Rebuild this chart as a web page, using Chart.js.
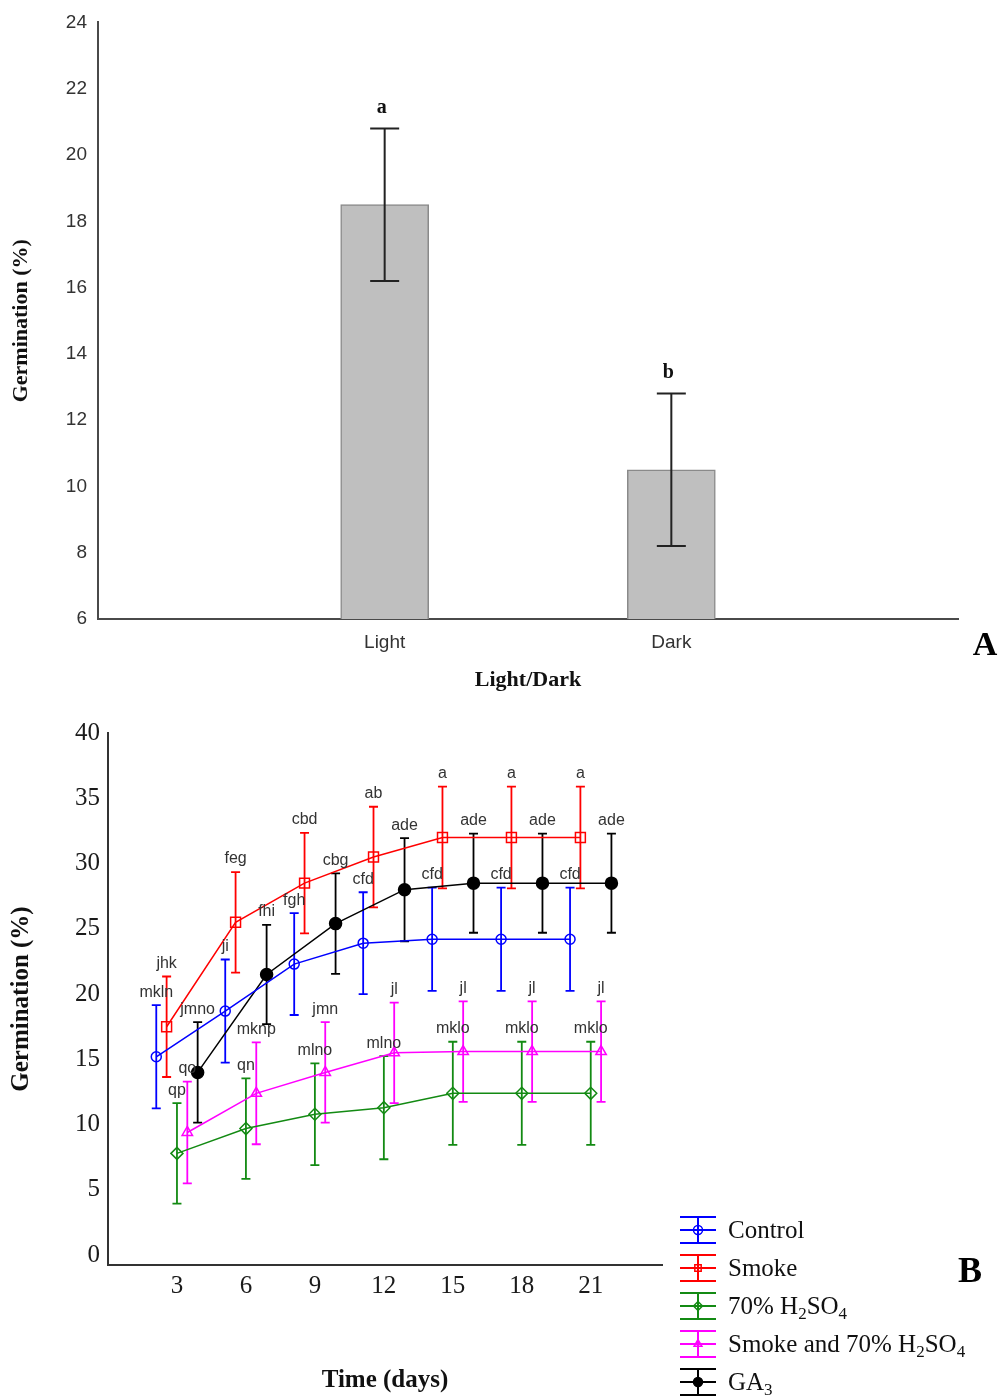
<!DOCTYPE html>
<html>
<head>
    <title>Germination</title>
    <script src="https://cdn.jsdelivr.net/npm/chart.js"></script>
    <style>
        body { margin: 0; background: #fff; }
        #panelA { position: absolute; left: 0; top: 0; }
        #panelB { position: absolute; left: 0; top: 700px; }
    </style>
</head>
<body>
    <canvas id="panelA" width="1000" height="700"></canvas>
    <canvas id="panelB" width="1000" height="699"></canvas>

    <script>
        // Panel A: light vs dark
        var lightDark = ['Light', 'Dark'];
        var germA = [18.5, 10.5];
        var errA = [2.3, 2.3];
        var lettersA = ['a', 'b'];
        var ticksA = [6, 8, 10, 12, 14, 16, 18, 20, 22, 24];

        // Panel B: germination over time for each treatment
        var days = [3, 6, 9, 12, 15, 18, 21];
        var ticksB = [0, 5, 10, 15, 20, 25, 30, 35, 40];

        var control = [15.2, 18.7, 22.3, 23.9, 24.2, 24.2, 24.2];
        var controlErr = [3.95, 3.95, 3.9, 3.9, 3.95, 3.95, 3.95];
        var controlLetters = ['mkln', 'ji', 'fgh', 'cfd', 'cfd', 'cfd', 'cfd'];

        var smoke = [17.5, 25.5, 28.5, 30.5, 32.0, 32.0, 32.0];
        var smokeErr = [3.85, 3.85, 3.85, 3.85, 3.9, 3.9, 3.9];
        var smokeLetters = ['jhk', 'feg', 'cbd', 'ab', 'a', 'a', 'a'];

        var acid = [7.8, 9.7, 10.8, 11.3, 12.4, 12.4, 12.4];
        var acidErr = [3.85, 3.85, 3.9, 3.95, 3.95, 3.95, 3.95];
        var acidLetters = ['qp', 'qn', 'mlno', 'mlno', 'mklo', 'mklo', 'mklo'];

        var smokeAcid = [9.4, 12.4, 14.0, 15.5, 15.6, 15.6, 15.6];
        var smokeAcidErr = [3.9, 3.9, 3.85, 3.85, 3.85, 3.85, 3.85];
        var smokeAcidLetters = ['qo', 'mknp', 'jmn', 'jl', 'jl', 'jl', 'jl'];

        var ga3 = [14.0, 21.5, 25.4, 28.0, 28.5, 28.5, 28.5];
        var ga3Err = [3.85, 3.8, 3.85, 3.95, 3.8, 3.8, 3.8];
        var ga3Letters = ['jmno', 'fhi', 'cbg', 'ade', 'ade', 'ade', 'ade'];

        var serif = 'Liberation Serif, Times New Roman, serif';
        var sans = 'Liberation Sans, Arial, sans-serif';

        // ---------- panel A ----------
        var barErrors = {
            id: 'barErrors',
            afterDatasetsDraw: function(chart) {
                var ctx = chart.ctx, y = chart.scales.y;
                var meta = chart.getDatasetMeta(0);
                var ds = chart.data.datasets[0];
                ctx.save();
                ctx.strokeStyle = '#222';
                ctx.lineWidth = 2;
                meta.data.forEach(function(bar, i) {
                    if (ds.data[i] == null) return;
                    var top = y.getPixelForValue(ds.data[i] + ds.errors[i]);
                    var bot = y.getPixelForValue(ds.data[i] - ds.errors[i]);
                    ctx.beginPath();
                    ctx.moveTo(bar.x, top); ctx.lineTo(bar.x, bot);
                    ctx.moveTo(bar.x - 14.5, top); ctx.lineTo(bar.x + 14.5, top);
                    ctx.moveTo(bar.x - 14.5, bot); ctx.lineTo(bar.x + 14.5, bot);
                    ctx.stroke();
                    ctx.fillStyle = '#111';
                    ctx.font = 'bold 20px ' + serif;
                    ctx.textAlign = 'center';
                    ctx.textBaseline = 'middle';
                    ctx.fillText(ds.letters[i], bar.x - 3, top - 21);
                });
                ctx.font = 'bold 34px ' + serif;
                ctx.fillStyle = '#000';
                ctx.textAlign = 'center';
                ctx.fillText('A', chart.chartArea.right + 27, chart.chartArea.bottom + 27);
                ctx.restore();
            }
        };

        new Chart(document.getElementById('panelA'), {
            type: 'bar',
            data: {
                labels: [''].concat(lightDark, ['']),
                datasets: [{
                    data: [null].concat(germA, [null]),
                    errors: [null].concat(errA, [null]),
                    letters: [''].concat(lettersA, ['']),
                    backgroundColor: '#bfbfbf',
                    borderColor: '#8a8a8a',
                    borderWidth: 1.5,
                    barThickness: 88
                }]
            },
            options: {
                responsive: false,
                animation: false,
                devicePixelRatio: 1,
                layout: { padding: { top: 19, right: 42, left: 0, bottom: 0 } },
                plugins: { legend: { display: false }, tooltip: { enabled: false } },
                scales: {
                    x: {
                        offset: false,
                        grid: { display: false, drawTicks: false },
                        border: { color: '#4a4a4a', width: 2 },
                        ticks: { font: { family: sans, size: 19 }, color: '#333', padding: 12, autoSkip: false, maxRotation: 0 },
                        title: { display: true, text: 'Light/Dark', color: '#111',
                                 font: { family: serif, size: 22, weight: 'bold' }, padding: { top: 4, bottom: 6 } },
                        afterFit: function(s) { s.height = 81; }
                    },
                    y: {
                        min: 6, max: 24,
                        grid: { display: false, drawTicks: false },
                        border: { color: '#4a4a4a', width: 2 },
                        afterBuildTicks: function(s) { s.ticks = ticksA.map(function(v) { return { value: v }; }); },
                        ticks: { font: { family: sans, size: 19 }, color: '#333', padding: 11 },
                        title: { display: true, text: 'Germination (%)', color: '#111',
                                 font: { family: serif, size: 22, weight: 'bold' }, padding: { top: 8 } },
                        afterFit: function(s) { s.width = 98; }
                    }
                }
            },
            plugins: [barErrors]
        });

        // ---------- panel B ----------
        var treatments = [
            { label: 'Control', values: control, errors: controlErr, letters: controlLetters,
              color: '#0000ff', point: 'circle', radius: 5, filled: false, dodge: -0.9 },
            { label: 'Smoke', values: smoke, errors: smokeErr, letters: smokeLetters,
              color: '#ff0000', point: 'rect', radius: 7, filled: false, dodge: -0.45 },
            { label: '70% H₂SO₄', values: acid, errors: acidErr, letters: acidLetters,
              color: '#138a13', point: 'rectRot', radius: 6, filled: false, dodge: 0 },
            { label: 'Smoke and 70% H₂SO₄', values: smokeAcid, errors: smokeAcidErr, letters: smokeAcidLetters,
              color: '#ff00ff', point: 'triangle', radius: 6, filled: false, dodge: 0.45 },
            { label: 'GA₃', values: ga3, errors: ga3Err, letters: ga3Letters,
              color: '#000000', point: 'circle', radius: 6, filled: true, dodge: 0.9 }
        ];

        var lineErrors = {
            id: 'lineErrors',
            beforeDatasetsDraw: function(chart) {
                var ctx = chart.ctx, y = chart.scales.y;
                ctx.save();
                chart.data.datasets.forEach(function(ds, di) {
                    var meta = chart.getDatasetMeta(di);
                    ctx.strokeStyle = ds.borderColor;
                    ctx.lineWidth = 1.8;
                    meta.data.forEach(function(pt, i) {
                        var v = ds.data[i].y, e = ds.errors[i];
                        var top = y.getPixelForValue(v + e), bot = y.getPixelForValue(v - e);
                        ctx.beginPath();
                        ctx.moveTo(pt.x, top); ctx.lineTo(pt.x, bot);
                        ctx.moveTo(pt.x - 4.5, top); ctx.lineTo(pt.x + 4.5, top);
                        ctx.moveTo(pt.x - 4.5, bot); ctx.lineTo(pt.x + 4.5, bot);
                        ctx.stroke();
                    });
                });
                ctx.restore();
            },
            afterDatasetsDraw: function(chart) {
                var ctx = chart.ctx, y = chart.scales.y;
                ctx.save();
                ctx.font = '16px ' + sans;
                ctx.fillStyle = '#333';
                ctx.textAlign = 'center';
                ctx.textBaseline = 'middle';
                chart.data.datasets.forEach(function(ds, di) {
                    var meta = chart.getDatasetMeta(di);
                    meta.data.forEach(function(pt, i) {
                        var top = y.getPixelForValue(ds.data[i].y + ds.errors[i]);
                        ctx.fillText(ds.letters[i], pt.x, top - 13);
                    });
                });
                ctx.restore();
            }
        };

        // label text with unicode subscript digits drawn small and lowered
        function drawRichLabel(ctx, text, x, y, size) {
            var subs = { '₂': '2', '₃': '3', '₄': '4' };
            var cx = x;
            var run = '', runSub = false;
            function flush() {
                if (!run) return;
                ctx.font = (runSub ? Math.round(size * 0.66) : size) + 'px ' + serif;
                ctx.fillText(run, cx, runSub ? y + size * 0.3 : y);
                cx += ctx.measureText(run).width;
                run = '';
            }
            for (var k = 0; k < text.length; k++) {
                var ch = text[k];
                var isSub = subs[ch] !== undefined;
                if (isSub !== runSub) { flush(); runSub = isSub; }
                run += isSub ? subs[ch] : ch;
            }
            flush();
        }

        var sideLegend = {
            id: 'sideLegend',
            afterDraw: function(chart) {
                var ctx = chart.ctx, area = chart.chartArea;
                var lx = area.right + 18;
                ctx.save();
                chart.data.datasets.forEach(function(ds, i) {
                    var cy = area.bottom - 35 + i * 38;
                    ctx.strokeStyle = ds.borderColor;
                    ctx.lineWidth = 2;
                    ctx.beginPath();
                    ctx.moveTo(lx, cy - 13); ctx.lineTo(lx + 36, cy - 13);
                    ctx.moveTo(lx, cy); ctx.lineTo(lx + 36, cy);
                    ctx.moveTo(lx, cy + 13); ctx.lineTo(lx + 36, cy + 13);
                    ctx.moveTo(lx + 18, cy - 13); ctx.lineTo(lx + 18, cy + 13);
                    ctx.stroke();
                    ctx.fillStyle = ds.pointBackgroundColor;
                    ctx.lineWidth = 1.5;
                    Chart.helpers.drawPoint(ctx, { pointStyle: ds.pointStyle, radius: 4.5, borderWidth: 1.5, rotation: 0 }, lx + 18, cy);
                    ctx.fillStyle = '#111';
                    ctx.textAlign = 'left';
                    ctx.textBaseline = 'middle';
                    drawRichLabel(ctx, ds.label, lx + 48, cy + 1, 25);
                });
                ctx.font = 'bold 36px ' + serif;
                ctx.fillStyle = '#000';
                ctx.textAlign = 'center';
                ctx.textBaseline = 'middle';
                ctx.fillText('B', area.right + 308, area.bottom + 8);
                ctx.restore();
            }
        };

        new Chart(document.getElementById('panelB'), {
            type: 'line',
            data: {
                datasets: treatments.map(function(t) {
                    return {
                        label: t.label,
                        data: days.map(function(d, i) { return { x: d + t.dodge, y: t.values[i] }; }),
                        errors: t.errors,
                        letters: t.letters,
                        borderColor: t.color,
                        borderWidth: 1.5,
                        pointStyle: t.point,
                        pointRadius: t.radius,
                        pointBorderWidth: 1.5,
                        pointBorderColor: t.color,
                        pointBackgroundColor: t.filled ? t.color : 'rgba(0,0,0,0)',
                        tension: 0,
                        fill: false
                    };
                })
            },
            options: {
                responsive: false,
                animation: false,
                devicePixelRatio: 1,
                layout: { padding: { top: 33, right: 338, left: 0, bottom: 0 } },
                plugins: { legend: { display: false }, tooltip: { enabled: false } },
                scales: {
                    x: {
                        type: 'linear',
                        min: 0, max: 24.1,
                        grid: { display: false, drawTicks: false },
                        border: { color: '#333', width: 2 },
                        afterBuildTicks: function(s) { s.ticks = days.map(function(v) { return { value: v }; }); },
                        ticks: { font: { family: serif, size: 25 }, color: '#1a1a1a', padding: 6, maxRotation: 0 },
                        title: { display: true, text: 'Time (days)', color: '#111',
                                 font: { family: serif, size: 25, weight: 'bold' }, padding: { top: 4, bottom: 3 } },
                        afterFit: function(s) { s.height = 134; }
                    },
                    y: {
                        min: -0.75, max: 40,
                        grid: { display: false, drawTicks: false },
                        border: { color: '#333', width: 2 },
                        afterBuildTicks: function(s) { s.ticks = ticksB.map(function(v) { return { value: v }; }); },
                        ticks: { font: { family: serif, size: 25 }, color: '#1a1a1a', padding: 8 },
                        title: { display: true, text: 'Germination (%)', color: '#111',
                                 font: { family: serif, size: 25, weight: 'bold' }, padding: { top: 7 } },
                        afterFit: function(s) { s.width = 108; }
                    }
                }
            },
            plugins: [lineErrors, sideLegend]
        });
    </script>
</body>
</html>
